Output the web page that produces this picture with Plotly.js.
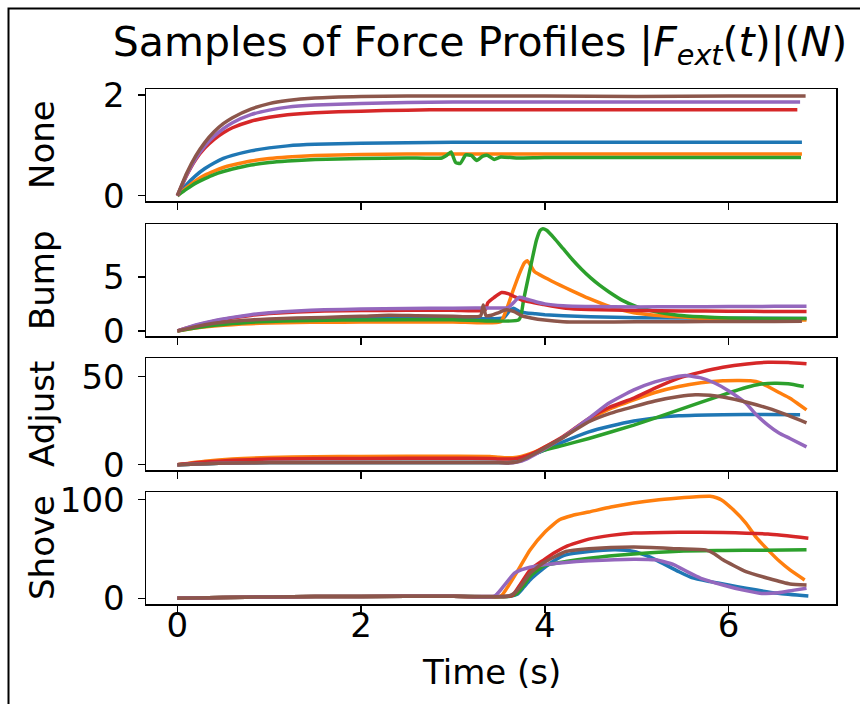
<!DOCTYPE html>
<html>
<head>
<meta charset="utf-8">
<script src="https://cdn.plot.ly/plotly-3.0.1.min.js"></script>
<style>html,body{margin:0;padding:0;background:#fff;}#chart{width:860px;height:704px;}</style>
</head>
<body>
<div id="chart"></div>
<script>
// ---------- Panel 1: None ----------
const none_t = [0,0.1,0.2,0.3,0.4,0.5,0.6,0.8,1.0,1.2,1.5,2.0,2.5,3.0,3.5,4.0,5.0,6.0,6.8];
const none_blue   = [0,0.22,0.40,0.54,0.65,0.74,0.80,0.89,0.95,0.99,1.02,1.04,1.05,1.06,1.06,1.06,1.06,1.06,1.06];
const none_orange = [0,0.16,0.30,0.41,0.49,0.56,0.61,0.69,0.74,0.77,0.80,0.82,0.83,0.83,0.83,0.83,0.83,0.83,0.83];
const none_green_t = [0,0.1,0.2,0.3,0.4,0.5,0.6,0.8,1.0,1.2,1.5,2.0,2.5,2.88,2.93,2.98,3.03,3.08,3.14,3.2,3.26,3.32,3.38,3.45,3.52,3.7,4.0,5.0,6.0,6.79];
const none_green   = [0,0.13,0.25,0.34,0.42,0.48,0.53,0.61,0.66,0.69,0.72,0.74,0.75,0.75,0.80,0.87,0.66,0.64,0.81,0.80,0.70,0.78,0.80,0.72,0.77,0.75,0.76,0.76,0.76,0.76];
const none_red_t    = [0,0.1,0.2,0.3,0.4,0.5,0.6,0.8,1.0,1.2,1.5,2.0,2.5,3.0,3.5,4.0,5.0,6.0,6.75];
const none_red    = [0,0.40,0.72,0.95,1.12,1.25,1.35,1.48,1.56,1.61,1.65,1.68,1.70,1.71,1.71,1.71,1.71,1.71,1.71];
const none_purple_t = [0,0.1,0.2,0.3,0.4,0.5,0.6,0.8,1.0,1.2,1.5,2.0,2.5,3.0,3.5,4.0,5.0,6.0,6.78];
const none_purple = [0,0.41,0.74,0.99,1.18,1.33,1.45,1.61,1.70,1.76,1.80,1.83,1.85,1.86,1.86,1.86,1.86,1.86,1.86];
const none_brown_t  = [0,0.1,0.2,0.3,0.4,0.5,0.6,0.8,1.0,1.2,1.5,2.0,2.5,3.0,3.5,4.0,5.0,6.0,6.84];
const none_brown  = [0,0.44,0.79,1.06,1.27,1.43,1.55,1.72,1.83,1.89,1.94,1.97,1.98,1.98,1.98,1.98,1.97,1.98,1.98];

// ---------- Panel 2: Bump ----------
const bump_blue_t = [0,0.2,0.4,0.6,0.8,1.0,1.3,1.6,2.0,3.0,3.55,3.62,3.66,3.72,3.8,3.9,4.0,4.2,4.5,5.0,6.0,6.85];
const bump_blue   = [0,0.35,0.60,0.80,0.93,1.02,1.10,1.14,1.16,1.18,1.20,1.90,2.10,1.80,1.65,1.58,1.50,1.40,1.30,1.22,1.17,1.15];
const bump_orange_t = [0,0.2,0.4,0.6,0.8,1.0,1.3,1.6,2.0,3.0,3.52,3.58,3.65,3.72,3.78,3.81,3.85,3.89,4.09,4.28,4.48,4.72,4.97,5.2,5.45,5.94,6.4,6.85];
const bump_orange   = [0,0.27,0.45,0.58,0.67,0.73,0.78,0.80,0.82,0.83,0.84,1.9,3.6,5.2,6.3,6.48,6.0,5.46,4.54,3.77,3.0,2.22,1.67,1.45,1.30,1.08,1.02,1.0];
const bump_green_t = [0,0.2,0.4,0.6,0.8,1.0,1.3,1.6,2.0,3.0,3.72,3.77,3.82,3.87,3.91,3.95,3.98,4.02,4.1,4.2,4.3,4.4,4.5,4.6,4.7,4.85,5.0,5.2,5.45,5.7,6.0,6.4,6.85];
const bump_green   = [0,0.30,0.52,0.68,0.80,0.88,0.95,0.99,1.02,1.04,1.05,2.9,4.9,6.9,8.4,9.3,9.45,9.3,8.6,7.6,6.6,5.7,4.9,4.2,3.6,2.8,2.25,1.8,1.45,1.30,1.20,1.15,1.15];
const bump_red_t = [0,0.2,0.4,0.6,0.8,1.0,1.3,1.6,2.0,2.5,3.0,3.35,3.38,3.45,3.53,3.6,3.75,3.99,4.23,4.48,5.0,5.5,6.0,6.5,6.85];
const bump_red   = [0,0.50,0.90,1.20,1.43,1.60,1.75,1.83,1.88,1.90,1.92,1.93,2.6,3.1,3.55,3.45,2.85,2.44,2.10,1.98,1.88,1.85,1.82,1.80,1.80];
const bump_purple_t = [0,0.2,0.4,0.6,0.8,1.0,1.3,1.6,2.0,2.5,3.0,3.5,3.6,3.67,3.72,3.8,3.9,4.0,4.2,4.5,5.0,5.5,6.0,6.5,6.85];
const bump_purple   = [0,0.55,0.95,1.25,1.50,1.68,1.85,1.95,2.02,2.08,2.10,2.12,2.15,2.7,3.1,2.95,2.7,2.5,2.32,2.25,2.22,2.23,2.25,2.27,2.28];
const bump_brown_t = [0,0.2,0.4,0.6,0.8,1.0,1.3,1.6,2.0,2.3,2.6,3.0,3.3,3.33,3.36,3.42,3.5,3.58,3.66,3.75,3.85,4.0,4.2,4.5,5.0,5.5,6.0,6.5,6.8];
const bump_brown   = [0,0.40,0.70,0.90,1.02,1.10,1.20,1.25,1.35,1.45,1.40,1.35,1.38,2.4,1.40,1.45,1.70,1.95,1.80,1.40,1.20,1.00,0.85,0.82,0.85,0.85,0.87,0.88,0.90];

// ---------- Panel 3: Adjust ----------
const adj_blue_t = [0,0.3,0.6,1.0,2.0,3.0,3.6,3.7,3.8,3.99,4.2,4.48,4.72,4.97,5.2,5.46,5.94,6.4,6.78];
const adj_blue   = [0,0.6,1.0,1.2,1.3,1.3,1.3,2.2,4.3,8.2,13,18.7,22,24.8,26.6,27.8,28.4,28.5,28.4];
const adj_orange_t = [0,0.3,0.6,1.0,1.5,2.0,3.0,3.4,3.5,3.6,3.7,3.8,3.9,4.0,4.2,4.48,4.7,4.97,5.2,5.46,5.7,5.94,6.24,6.35,6.43,6.55,6.67,6.76,6.85];
const adj_orange   = [0,2.0,3.3,4.1,4.5,4.7,4.8,4.7,4.2,3.9,4.3,5.6,7.5,10,15.5,25.4,31.5,36.8,41,44.4,46.5,47.7,47.7,46.5,44.4,41,37.8,34.5,31.1];
const adj_green_t = [0,0.3,0.6,1.0,2.0,3.0,3.6,3.7,3.8,3.99,4.2,4.48,4.97,5.46,5.94,6.2,6.34,6.5,6.65,6.82];
const adj_green   = [0,0.6,1.0,1.2,1.3,1.3,1.3,2.2,4.2,8.2,11,14.9,22.5,31.1,39.7,44,45.7,46.3,46,44.4];
const adj_red_t = [0,0.3,0.6,1.0,1.5,2.0,3.0,3.4,3.5,3.6,3.7,3.8,3.9,4.0,4.2,4.48,4.7,4.97,5.2,5.46,5.7,5.94,6.2,6.43,6.65,6.85];
const adj_red   = [0,1.5,2.5,3.2,3.5,3.6,3.7,3.6,3.3,3.2,3.6,5,7.2,10,16,26.3,32.5,37.8,43.5,49.2,52.6,55.3,57.2,58.2,58.0,57.3];
const adj_purple_t = [0,0.3,0.6,1.0,2.0,3.0,3.5,3.6,3.7,3.8,3.9,4.0,4.2,4.48,4.7,4.97,5.2,5.4,5.53,5.7,5.85,6.0,6.19,6.3,6.43,6.55,6.67,6.85];
const adj_purple   = [0,0.6,1.0,1.2,1.3,1.3,1.3,1.0,1.5,3.2,6,9,15.5,26.3,35,42.5,47,49.6,50.6,49.3,46.4,42,34.9,28.5,22.5,18,14.9,10.1];
const adj_brown_t = [0,0.3,0.6,1.0,2.0,3.0,3.5,3.6,3.7,3.8,3.9,4.0,4.2,4.48,4.72,4.97,5.2,5.46,5.64,5.8,5.94,6.2,6.43,6.65,6.85];
const adj_brown   = [0,0.6,1.0,1.2,1.3,1.3,1.3,1.0,1.6,3.8,6.5,9.5,15.5,24.4,29.3,33,36.2,38.7,39.7,39.4,38.4,35.5,32.1,28,23.8];

// ---------- Panel 4: Shove ----------
const shv_blue_t = [0,0.5,1.0,1.5,2.0,3.0,3.62,3.7,3.77,3.84,3.99,4.1,4.23,4.48,4.77,4.97,5.1,5.21,5.46,5.6,5.8,6.0,6.19,6.54,6.87];
const shv_blue   = [0,0.8,1.4,1.7,1.9,2.0,2.0,4,11,18.6,30.5,38,44,47.4,49.1,47.4,43.5,39,27,21,16.9,13.5,10.2,5.1,2.3];
const shv_orange_t = [0,0.5,1.0,1.5,2.0,3.0,3.52,3.6,3.7,3.84,4.0,4.16,4.3,4.48,4.72,4.97,5.2,5.46,5.65,5.8,5.87,5.92,6.05,6.19,6.3,6.43,6.55,6.67,6.83];
const shv_orange   = [0,0.8,1.4,1.7,1.9,2.0,2.0,12,27,49,67,79.6,84,87.5,92.5,96.6,99.5,101.7,103,103.4,102,100,90,76.3,62,49.1,38,28.8,18.6];
const shv_green_t = [0,0.5,1.0,1.5,2.0,3.0,3.62,3.7,3.77,3.84,3.99,4.23,4.48,4.97,5.46,5.94,6.4,6.85];
const shv_green   = [0,0.8,1.4,1.7,1.9,2.0,2.0,5,13,22,32.9,37.3,40.7,45,47.8,48.4,48.8,49.1];
const shv_red_t = [0,0.5,1.0,1.5,2.0,3.0,3.6,3.65,3.74,3.84,3.99,4.1,4.23,4.48,4.72,4.97,5.46,5.94,6.43,6.87];
const shv_red   = [0,0.8,1.4,1.7,1.9,2.0,2.0,3,15,28.8,39,46,52.5,60,63.8,66.1,67.1,66.8,65.1,61];
const shv_purple_t = [0,0.5,1.0,1.5,2.0,3.0,3.45,3.55,3.67,3.75,3.84,3.99,4.2,4.48,4.97,5.21,5.3,5.41,5.55,5.7,5.94,6.15,6.34,6.54,6.7,6.85];
const shv_purple   = [0,0.8,1.4,1.7,1.9,2.0,2.0,12,25.4,29,31.5,33.9,36,38,39.7,39,37,33.9,27,20.3,13.5,8.5,5.1,5.5,8,10.2];
const shv_brown_t = [0,0.5,1.0,1.5,2.0,3.0,3.6,3.68,3.76,3.84,3.99,4.23,4.48,4.97,5.46,5.75,5.85,5.94,6.19,6.43,6.67,6.85];
const shv_brown   = [0,0.8,1.4,1.7,1.9,2.0,2.0,6,15,25.4,36.2,47.4,50.2,51.9,50.2,49.1,45,39,27,20.3,14.5,13.5];

// ---------- Labels ----------
const panelNames = ['None','Bump','Adjust','Shove'];
const yTicks = [[0,2],[0,5],[0,50],[0,100]];
const xTicks = [0,2,4,6];
const colors = ['#1f77b4','#ff7f0e','#2ca02c','#d62728','#9467bd','#8c564b'];

const panels = [
  [[none_t,none_blue],[none_t,none_orange],[none_green_t,none_green],[none_red_t,none_red],[none_purple_t,none_purple],[none_brown_t,none_brown]],
  [[bump_blue_t,bump_blue],[bump_orange_t,bump_orange],[bump_green_t,bump_green],[bump_red_t,bump_red],[bump_purple_t,bump_purple],[bump_brown_t,bump_brown]],
  [[adj_blue_t,adj_blue],[adj_orange_t,adj_orange],[adj_green_t,adj_green],[adj_red_t,adj_red],[adj_purple_t,adj_purple],[adj_brown_t,adj_brown]],
  [[shv_blue_t,shv_blue],[shv_orange_t,shv_orange],[shv_green_t,shv_green],[shv_red_t,shv_red],[shv_purple_t,shv_purple],[shv_brown_t,shv_brown]]
];

const traces = [];
panels.forEach((p, i) => {
  const sfx = i === 0 ? '' : String(i + 1);
  p.forEach((s, j) => {
    traces.push({
      x: s[0], y: s[1], type: 'scatter', mode: 'lines',
      xaxis: 'x' + sfx, yaxis: 'y' + sfx,
      line: {color: colors[j], width: 3.5, shape: 'spline', smoothing: 0.5},
      showlegend: false, hoverinfo: 'skip'
    });
  });
});

const FONT = 'DejaVu Sans, sans-serif';
const L = 146, R = 836, T = 89, B = 604;
const W = R - L, H = B - T;
const pxDomains = [[89,201],[224,336],[358,470],[492,604]];
const yRanges = [[-0.105,2.12],[-0.47,9.88],[-3.0,60.6],[-5.8,107.8]];

const layout = {
  width: 860, height: 704,
  margin: {l: L, r: 860 - R, t: T, b: 704 - B, pad: 0},
  paper_bgcolor: '#fff', plot_bgcolor: '#fff',
  font: {family: FONT, size: 34, color: '#000'},
  title: {
    text: 'Samples of Force Profiles |<i>F</i><sub><i>ext</i></sub>(<i>t</i>)|(<i>N</i>)',
    font: {family: FONT, size: 41, color: '#000'},
    xref: 'paper', x: (480 - L) / W, xanchor: 'center',
    yref: 'container', y: 1 - 42 / 704, yanchor: 'middle'
  },
  annotations: [],
  shapes: [{
    type: 'path', xref: 'paper', yref: 'paper',
    path: 'M ' + ((8.5 - L) / W) + ',' + ((B - 760) / H) + ' L ' + ((8.5 - L) / W) + ',' + ((B - 8.5) / H) + ' L ' + ((900 - L) / W) + ',' + ((B - 8.5) / H),
    line: {color: '#000', width: 2}
  }]
};

panelNames.forEach((name, i) => {
  const sfx = i === 0 ? '' : String(i + 1);
  const d = pxDomains[i];
  const dom = [(B - d[1]) / H, (B - d[0]) / H];
  layout['xaxis' + sfx] = {
    domain: [0, 1], anchor: 'y' + sfx, range: [-0.3415, 7.171],
    tickvals: xTicks, ticktext: xTicks.map(String),
    ticks: 'outside', ticklen: 7, tickwidth: 1.5, tickcolor: '#000',
    showline: true, mirror: true, linecolor: '#000', linewidth: 1.5,
    showgrid: false, zeroline: false,
    showticklabels: i === 3, ticklabelstandoff: -16,
    tickfont: {family: FONT, size: 34, color: '#000'}
  };
  if (i > 0) layout['xaxis' + sfx].matches = 'x';
  layout['yaxis' + sfx] = {
    domain: dom, anchor: 'x' + sfx, range: yRanges[i],
    tickvals: yTicks[i], ticktext: yTicks[i].map(String),
    ticks: 'outside', ticklen: 7, tickwidth: 1.5, tickcolor: '#000',
    showline: true, mirror: true, linecolor: '#000', linewidth: 1.5,
    showgrid: false, zeroline: false, ticklabelstandoff: 6,
    tickfont: {family: FONT, size: 34, color: '#000'}
  };
  layout.annotations.push({
    text: name, xref: 'paper', yref: 'paper',
    x: (42 - L) / W, y: (dom[0] + dom[1]) / 2,
    xanchor: 'center', yanchor: 'middle', textangle: -90, showarrow: false,
    font: {family: FONT, size: 34, color: '#000'}
  });
});

layout.annotations.push({
  text: 'Time (s)', xref: 'paper', yref: 'paper',
  x: 0.5, y: (B - 672) / H, xanchor: 'center', yanchor: 'middle', showarrow: false,
  font: {family: FONT, size: 34, color: '#000'}
});

Plotly.newPlot('chart', traces, layout, {staticPlot: true, displayModeBar: false});
</script>
</body>
</html>
